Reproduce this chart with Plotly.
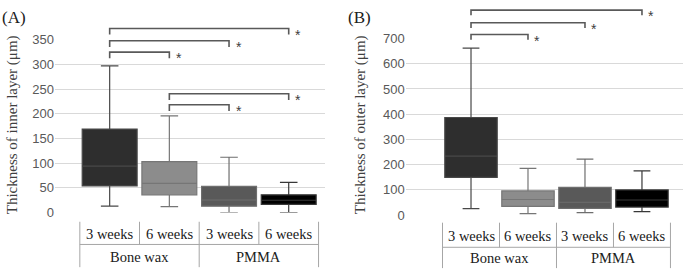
import plotly.graph_objects as go

# ---- data ----
groups = ["Bone wax", "Bone wax", "PMMA", "PMMA"]
weeks = ["3 weeks", "6 weeks", "3 weeks", "6 weeks"]
cats = ["BW3", "BW6", "PM3", "PM6"]

# Panel A: inner layer (µm)
a_low = [13, 12, 0, 0]
a_q1 = [54, 36, 13, 16.5]
a_med = [94, 59, 25.5, 25]
a_q3 = [169, 103, 53, 36]
a_high = [297, 196, 112, 61]

# Panel B: outer layer (µm)
b_low = [26, 6, 10, 14]
b_q1 = [150, 35, 27, 32]
b_med = [234, 62, 51, 60]
b_q3 = [387, 96, 110, 100]
b_high = [662, 185, 222, 175]

# significance comparisons (box index pairs)
a_pairs = [(0, 3), (0, 2), (0, 1), (1, 3), (1, 2)]
b_pairs = [(0, 3), (0, 2), (0, 1)]

fills = ["#2e2e2e", "#8c8c8c", "#595959", "#000000"]
lines = ["#484848", "#767676", "#6e6e6e", "#383838"]

W, H = 685, 278
fig = go.Figure()

def add_boxes(low, q1, med, q3, high, xa, ya):
    for i in range(4):
        fig.add_trace(go.Box(
            x=[cats[i]], lowerfence=[low[i]], q1=[q1[i]], median=[med[i]],
            q3=[q3[i]], upperfence=[high[i]],
            fillcolor=fills[i], line=dict(color=lines[i], width=1.2),
            whiskerwidth=0.32, width=0.92, boxpoints=False,
            showlegend=False, xaxis=xa, yaxis=ya))

add_boxes(a_low, a_q1, a_med, a_q3, a_high, "x", "y")
add_boxes(b_low, b_q1, b_med, b_q3, b_high, "x2", "y2")

def py(px):
    return 1 - px / H

tickfont = dict(family="Liberation Sans, Arial", size=13, color="#595959")
common_y = dict(showgrid=True, gridcolor="#d9d9d9", gridwidth=1, zeroline=False,
                showline=False, ticks="", tickfont=tickfont)
common_x = dict(type="category", categoryorder="array", categoryarray=cats,
                showticklabels=False, showgrid=False, zeroline=False,
                showline=False, ticks="")

fig.update_layout(
    width=W, height=H, margin=dict(l=0, r=0, t=0, b=0),
    plot_bgcolor="white", paper_bgcolor="white", boxmode="overlay",
    xaxis=dict(domain=[55 / W, 325 / W], range=[-0.916, 3.608], anchor="y", **common_x),
    yaxis=dict(domain=[py(217.3), py(34.6)], range=[0, 350], dtick=50, anchor="x", **common_y),
    xaxis2=dict(domain=[405.7 / W, 683 / W], range=[-1.146, 3.72], anchor="y2", **common_x),
    yaxis2=dict(domain=[py(220), py(33.3)], range=[0, 700], dtick=100, anchor="x2", **common_y),
)

serif = "Liberation Serif, Times New Roman"
bc = "#595959"
tc = "#a6a6a6"

def ann(**kw):
    kw.setdefault("xanchor", "center")
    kw.setdefault("yanchor", "middle")
    fig.add_annotation(showarrow=False, **kw)

def panel_extras(xref, ypx_list, pairs, tick, title, title_x, label, label_x,
                 tbl_top, tbl_mid, tbl_bot, row1, row2):
    # brackets
    for (i, j), ypx in zip(pairs, ypx_list):
        y0 = py(ypx)
        y1 = py(ypx + tick)
        fig.add_shape(type="path", xref=xref, yref="paper",
                      path=f"M {i},{y1} L {i},{y0} L {j},{y0} L {j},{y1}",
                      line=dict(color=bc, width=1.6))
        ann(x=j, xref=xref, y=py(ypx + 6.5), yref="paper", text="*", xshift=9.5,
            font=dict(family="Liberation Sans, Arial", size=14, color="#404040"))
    # y title
    ann(x=title_x / W, xref="paper", y=py(125), yref="paper",
        text=title, textangle=-90,
        font=dict(family=serif, size=15, color="#404040"))
    # panel label
    ann(x=label_x / W, xref="paper", y=py(11), yref="paper",
        text=label, xanchor="left",
        font=dict(family=serif, size=17, color="#202020"))
    # category table
    for b in [-0.5, 0.5, 1.5, 2.5, 3.5]:
        bottom = tbl_bot if b in (-0.5, 1.5, 3.5) else tbl_mid
        fig.add_shape(type="line", xref=xref, yref="paper", x0=b, x1=b,
                      y0=py(tbl_top), y1=py(bottom), line=dict(color=tc, width=1))
    fig.add_shape(type="line", xref=xref, yref="paper", x0=-0.5, x1=3.5,
                  y0=py(tbl_mid), y1=py(tbl_mid), line=dict(color=tc, width=1))
    for i in range(4):
        ann(x=i, xref=xref, y=py(row1), yref="paper", text=weeks[i],
            font=dict(family=serif, size=14.5, color="#202020"))
    for g, xc in [(groups[0], 0.5), (groups[2], 2.5)]:
        ann(x=xc, xref=xref, y=py(row2), yref="paper", text=g,
            font=dict(family=serif, size=14.5, color="#202020"))

panel_extras("x", [22.7, 35.7, 47.7, 91.7, 103.3], a_pairs, 6.5,
             "Thickness of inner layer (μm)", 12, "(A)", 0,
             227, 251, 275, 240, 264)
panel_extras("x2", [3.3, 16.7, 29], b_pairs, 5.5,
             "Thickness of outer layer (μm)", 360, "(B)", 346,
             228, 254, 276, 242, 265)

fig.write_html("out.html")
